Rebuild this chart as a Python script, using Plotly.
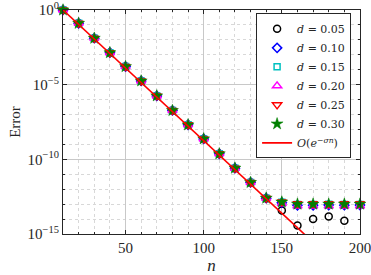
import plotly.graph_objects as go

n = [10, 20, 30, 40, 50, 60, 70, 80, 90, 100, 110, 120, 130, 140, 150, 160, 170, 180, 190, 200]

# log10 of error
base = [0.0, -0.89, -1.89, -2.86, -3.79, -4.75, -5.75, -6.73, -7.69, -8.63,
        -9.63, -10.59, -11.55, -12.6]
err_005 = base + [-13.42, -14.43, -14.0, -13.83, -14.11, None]
err_010 = base + [-12.9, -13.08, -13.08, -13.06, -13.07, -13.06]
err_015 = base + [-12.88, -13.02, -13.02, -13.0, -13.02, -13.02]
err_020 = base + [-12.95, -13.12, -13.12, -13.12, -13.12, -13.12]
err_025 = base + [-12.85, -12.98, -12.98, -12.98, -12.98, -12.98]
err_030 = base + [-12.86, -13.0, -13.0, -13.0, -13.0, -13.0]

ref_n = [10, 200]
ref_log = [0.0, -18.47]

labels = ["<i>d</i> = 0.05", "<i>d</i> = 0.10", "<i>d</i> = 0.15",
          "<i>d</i> = 0.20", "<i>d</i> = 0.25", "<i>d</i> = 0.30"]
series = [err_005, err_010, err_015, err_020, err_025, err_030]
colors = ["black", "blue", "#00c0c0", "magenta", "red", "green"]
symbols = ["circle-open", "diamond-open", "square-open", "triangle-up-open",
           "triangle-down-open", "star"]
sizes = [7, 7, 6, 8, 8, 9]

yt_vals = [1e-15, 1e-10, 1e-5, 1]
yt_text = ["10<sup>−15</sup>", "10<sup>−10</sup>", "10<sup>−5</sup>", "10<sup>0</sup>"]

FONT = "Liberation Serif"

fig = go.Figure()
for lab, s, c, sym, sz in zip(labels, series, colors, symbols, sizes):
    fig.add_trace(go.Scatter(
        x=n, y=[None if v is None else 10 ** v for v in s],
        mode="markers", name=lab, cliponaxis=False,
        marker=dict(symbol=sym, color=c, size=sz,
                    line=dict(color=c, width=1.5 if sym != "star" else 0.5)),
    ))
fig.add_trace(go.Scatter(
    x=ref_n, y=[10 ** v for v in ref_log], mode="lines",
    name="<i>O</i>(<i>e</i><sup>−<i>σn</i></sup>)",
    line=dict(color="red", width=1.6),
))

axis_common = dict(
    showline=True, linecolor="#262626", linewidth=1, mirror="ticks",
    ticks="inside", ticklen=4, tickcolor="#262626",
    showgrid=True, gridcolor="#c8c8c8", gridwidth=1,
    zeroline=False, automargin=False, ticklabeloverflow="allow",
    tickfont=dict(family=FONT, size=15, color="#262626"),
)

fig.update_layout(
    width=371, height=275,
    margin=dict(l=63, r=11, t=10, b=41),
    paper_bgcolor="white", plot_bgcolor="white",
    font=dict(family=FONT, color="#262626"),
    xaxis=dict(range=[9.99, 200.01], tickmode="array", tickvals=[50, 100, 150, 200],
               title=dict(text="<i>n</i>", font=dict(family=FONT, size=17), standoff=6),
               minor=dict(tickvals=list(range(10, 201, 10)), showgrid=True,
                          gridcolor="#d8d8d8", griddash="dot", ticks="inside",
                          ticklen=2, tickcolor="#262626"),
               **axis_common),
    yaxis=dict(type="log", range=[-15, 0.001], tickmode="array", tickvals=yt_vals,
               ticktext=yt_text,
               title=dict(text="Error", font=dict(family=FONT, size=15), standoff=3),
               minor=dict(tickvals=[10 ** (-k) for k in range(0, 16)], showgrid=True,
                          gridcolor="#d8d8d8", griddash="dot", ticks="inside",
                          ticklen=2, tickcolor="#262626"),
               **axis_common),
    legend=dict(x=0.97, y=0.985, xanchor="right", yanchor="top",
                bgcolor="white", bordercolor="#262626", borderwidth=1,
                font=dict(family="DejaVu Serif", size=11, color="#262626"),
                itemwidth=30, tracegroupgap=0),
    showlegend=True,
)

fig.write_html("out.html", config={"displayModeBar": False},
               post_script="document.body.style.margin='0';document.body.style.overflow='hidden';")
